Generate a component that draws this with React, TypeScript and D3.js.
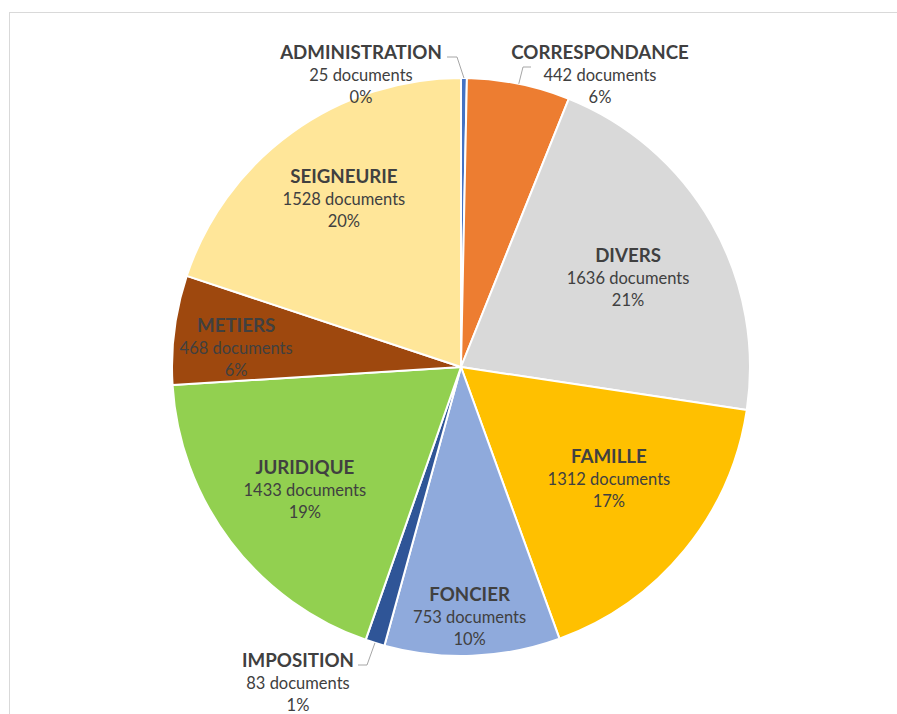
import React from "react";
import * as d3 from "d3";

const categories = ["ADMINISTRATION", "CORRESPONDANCE", "DIVERS", "FAMILLE", "FONCIER", "IMPOSITION", "JURIDIQUE", "METIERS", "SEIGNEURIE"];
const documents = [25, 442, 1636, 1312, 753, 83, 1433, 468, 1528];
const percentLabels = ["0%", "6%", "21%", "17%", "10%", "1%", "19%", "6%", "20%"];
const colors = ["#4472C4", "#ED7D31", "#D9D9D9", "#FFC000", "#8FAADC", "#2F5597", "#92D050", "#9E480E", "#FFE699"];

type Inside = { kind: "in"; r: number; da: number };
type Outside = { kind: "out"; lx: number; ly: number; elbow: [number, number]; tail: [number, number]; rEnd: number };
const labelLayout: Record<string, Inside | Outside> = {
  ADMINISTRATION: { kind: "out", lx: -100, ly: -292, elbow: [-4, -310], tail: [-14, -310], rEnd: 1.0 },
  CORRESPONDANCE: { kind: "out", lx: 139, ly: -292, elbow: [62, -300], tail: [70, -300], rEnd: 1.0 },
  DIVERS: { kind: "in", r: 0.655, da: 1.7 },
  FAMILLE: { kind: "in", r: 0.642, da: -2.2 },
  FONCIER: { kind: "in", r: 0.865, da: 0.3 },
  IMPOSITION: { kind: "out", lx: -163, ly: 316, elbow: [-94, 298], tail: [-103, 298], rEnd: 1.0 },
  JURIDIQUE: { kind: "in", r: 0.688, da: -1.1 },
  METIERS: { kind: "in", r: 0.781, da: -2.6 },
  SEIGNEURIE: { kind: "in", r: 0.708, da: 0.9 },
};

const W = 897;
const H = 714;
const cx = 461;
const cy = 367;
const R = 289;
const FONT = "Lato, 'Open Sans', sans-serif";
const TEXT = "#404040";

export default function App() {
  const pie = d3.pie<number>().sort(null).value((d) => d);
  const arcs = pie(documents);
  const arc = d3.arc<d3.PieArcDatum<number>>().innerRadius(0).outerRadius(R);

  const labelBlock = (i: number, x: number, y: number) => (
    <g key={"lab" + i} fontFamily={FONT} fill={TEXT} textAnchor="middle">
      <text x={x} y={y - 16} fontSize={18.7} fontWeight={700}>{categories[i]}</text>
      <text x={x} y={y + 6} fontSize={16.5}>{documents[i]} documents</text>
      <text x={x} y={y + 28} fontSize={16.5}>{percentLabels[i]}</text>
    </g>
  );

  return (
    <svg width={W} height={H} style={{ position: "absolute", left: 0, top: 0, display: "block" }}>
      <rect x={0} y={0} width={W} height={H} fill="#ffffff" />
      <rect x={9.5} y={12.5} width={1000} height={1000} fill="#ffffff" stroke="#d9d9d9" strokeWidth={1} />
      <g transform={`translate(${cx},${cy})`}>
        {arcs.map((a, i) => (
          <path key={i} d={arc(a) || ""} fill={colors[i]} stroke="#ffffff" strokeWidth={2} strokeLinejoin="round" />
        ))}
        {arcs.map((a, i) => {
          const lay = labelLayout[categories[i]];
          const mid = (a.startAngle + a.endAngle) / 2;
          if (lay.kind === "in") {
            const ang = mid + (lay.da * Math.PI) / 180;
            const x = Math.sin(ang) * R * lay.r;
            const y = -Math.cos(ang) * R * lay.r;
            return labelBlock(i, x, y);
          }
          const ex = Math.sin(mid) * R * lay.rEnd;
          const ey = -Math.cos(mid) * R * lay.rEnd;
          const pts: [number, number][] = [lay.tail, lay.elbow, [ex, ey]];
          return (
            <g key={"o" + i}>
              <path d={d3.line()(pts) || ""} fill="none" stroke="#a6a6a6" strokeWidth={1} />
              {labelBlock(i, lay.lx, lay.ly)}
            </g>
          );
        })}
      </g>
    </svg>
  );
}
